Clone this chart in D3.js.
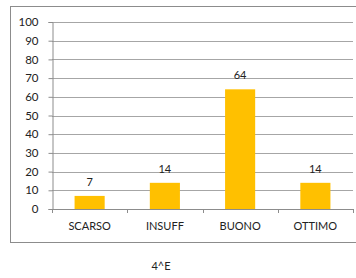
<!DOCTYPE html>
<html>
<head>
<meta charset="utf-8">
<script src="https://cdn.jsdelivr.net/npm/d3@7"></script>
<style>
  html, body { margin: 0; padding: 0; background: #fff; }
  svg { display: block; }
  text { font-family: Lato, 'Liberation Sans', sans-serif; fill: #222; }
</style>
</head>
<body>
<div id="chart"></div>
<script>
// data
const categories = ['SCARSO', 'INSUFF', 'BUONO', 'OTTIMO'];
const values = [7, 14, 64, 14];
const yTicks = [0, 10, 20, 30, 40, 50, 60, 70, 80, 90, 100];
const title = '4^E';

const W = 356, H = 278;
const plot = { left: 52, right: 353, top: 22, bottom: 209 };

const svg = d3.select('#chart').append('svg')
  .attr('width', W).attr('height', H);

// outer chart frame
svg.append('rect')
  .attr('x', 10.5).attr('y', 6.5)
  .attr('width', 350).attr('height', 236)
  .attr('fill', 'none')
  .attr('stroke', '#8c8c8c')
  .attr('stroke-width', 1);

const x = d3.scaleBand()
  .domain(categories)
  .range([plot.left, plot.right])
  .paddingInner(0.6)
  .paddingOuter(0.3);

const y = d3.scaleLinear()
  .domain([0, 100])
  .range([plot.bottom, plot.top]);

// gridlines
svg.append('g')
  .selectAll('line')
  .data(yTicks.filter(d => d > 0))
  .join('line')
  .attr('x1', plot.left).attr('x2', plot.right)
  .attr('y1', d => Math.round(y(d)) + 0.5)
  .attr('y2', d => Math.round(y(d)) + 0.5)
  .attr('stroke', '#a6a6a6')
  .attr('stroke-width', 1);

// bars
svg.append('g')
  .selectAll('rect')
  .data(values)
  .join('rect')
  .attr('x', (d, i) => x(categories[i]))
  .attr('y', d => y(d))
  .attr('width', x.bandwidth())
  .attr('height', d => y(0) - y(d))
  .attr('fill', '#ffc000');

// value labels
svg.append('g')
  .selectAll('text')
  .data(values)
  .join('text')
  .attr('x', (d, i) => x(categories[i]) + x.bandwidth() / 2)
  .attr('y', d => y(d) - 10)
  .attr('text-anchor', 'middle')
  .style('font-size', '11px')
  .text(d => d);

// y axis
const yAxis = svg.append('g')
  .attr('transform', `translate(${plot.left + 0.5},0)`)
  .call(d3.axisLeft(y).tickValues(yTicks).tickSize(4).tickPadding(10));
yAxis.select('.domain').attr('stroke', '#8c8c8c');
yAxis.selectAll('.tick line').attr('stroke', '#8c8c8c');
yAxis.selectAll('.tick text')
  .style('font-family', "Lato, 'Liberation Sans', sans-serif")
  .style('font-size', '11.5px')
  .attr('fill', '#222');

// x axis line and category separator ticks
const xAxis = svg.append('g');
xAxis.append('line')
  .attr('x1', plot.left).attr('x2', plot.right)
  .attr('y1', plot.bottom + 0.5).attr('y2', plot.bottom + 0.5)
  .attr('stroke', '#8c8c8c');
const step = x.step();
xAxis.selectAll('line.sep')
  .data(d3.range(categories.length + 1))
  .join('line')
  .attr('class', 'sep')
  .attr('x1', i => Math.round(plot.left + i * (plot.right - plot.left) / categories.length) + 0.5)
  .attr('x2', i => Math.round(plot.left + i * (plot.right - plot.left) / categories.length) + 0.5)
  .attr('y1', plot.bottom).attr('y2', plot.bottom + 4)
  .attr('stroke', '#8c8c8c');
xAxis.selectAll('text')
  .data(categories)
  .join('text')
  .attr('x', d => x(d) + x.bandwidth() / 2)
  .attr('y', 230)
  .attr('text-anchor', 'middle')
  .style('font-size', '11px')
  .text(d => d);

// caption below chart
svg.append('text')
  .attr('x', 161).attr('y', 270)
  .attr('text-anchor', 'middle')
  .style('font-size', '11px')
  .text(title);
</script>
</body>
</html>
